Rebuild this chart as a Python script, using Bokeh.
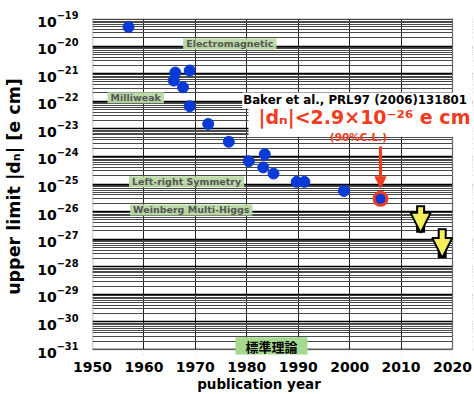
from bokeh.plotting import figure
from bokeh.models import Label, Arrow, NormalHead, FixedTicker, BoxAnnotation
from bokeh.embed import file_html
from bokeh.resources import INLINE

# ---- data ----
years = [1957, 1966.1, 1968.9, 1965.8, 1967.6, 1968.9, 1972.5, 1976.5,
         1980.4, 1983.5, 1983.2, 1985.2, 1989.7, 1991.2, 1998.9]
limits = [4.9e-20, 1.1e-21, 1.3e-21, 5.6e-22, 3.2e-22, 6.6e-23, 1.5e-23, 3.4e-24,
          6.7e-25, 1.2e-24, 4.0e-25, 2.4e-25, 1.2e-25, 1.2e-25, 5.6e-26]
baker_year = 2006
baker_limit = 2.9e-26

future_years = [2013.8, 2018.0]
future_from = [1.7e-26, 2.5e-27]
future_to = [1.7e-27, 2.1e-28]

theory_names = ["Electromagnetic", "Milliweak", "Left-right Symmetry", "Weinberg Multi-Higgs"]
theory_x = [1976.7, 1958.4, 1968.3, 1969.2]
theory_y = [1.2e-20, 1.35e-22, 1.2e-25, 1.15e-26]
sm_name = "標準理論"
sm_x = 1984.8
sm_y = 1.26e-31

x_ticks = [1950, 1960, 1970, 1980, 1990, 2000, 2010, 2020]
y_exponents = list(range(-31, -18))
x_min, x_max = 1950, 2020
y_min, y_max = 1e-31, 1e-19

ref_text = "Baker et al., PRL97 (2006)131801"
result_text = "|dₙ|<2.9×10⁻²⁶ e cm"
cl_text = "(90%C.L.)"

BLUE = "#0a3ad6"
RED = "#f03c20"
YELLOW = "#f6ef5c"
FONT = "DejaVu Sans"

# the drawing frame is a little larger than the data box so that the
# annotations may overhang the box on the right and at the bottom
p = figure(width=474, height=394, x_range=(x_min, x_max + 3.89),
           y_range=(y_min / 10 ** 0.18, y_max),
           y_axis_type="log", output_backend="svg", toolbar_location=None,
           min_border_left=92, min_border_right=2, min_border_top=18, min_border_bottom=36,
           background_fill_color="white", border_fill_color="white")
p.outline_line_color = None

p.xaxis.ticker = FixedTicker(ticks=x_ticks)
p.yaxis.ticker = FixedTicker(
    ticks=[10.0 ** e for e in y_exponents],
    minor_ticks=[m * 10.0 ** e for e in y_exponents[:-1] for m in range(2, 10)])

for ax in (p.xaxis[0], p.yaxis[0]):
    ax.axis_line_color = None
    ax.major_tick_line_color = None
    ax.minor_tick_line_color = None
    ax.major_label_text_font = FONT
    ax.major_label_text_font_style = "bold"
    ax.major_label_text_color = "black"
    ax.axis_label_text_font = FONT
    ax.axis_label_text_font_style = "bold"
    ax.axis_label_text_color = "black"

p.xaxis.major_label_text_font_size = "14px"
p.yaxis.major_label_text_font_size = "14px"
p.xaxis.major_label_standoff = 1
p.yaxis.major_label_standoff = 8
p.xaxis.axis_label = "publication year" + "\u00a0" * 10
p.xaxis.axis_label_text_font_size = "13.5px"
p.xaxis.axis_label_standoff = 1
p.yaxis.axis_label = "upper limit |dₙ| [e cm]"
p.yaxis.axis_label_text_font_size = "17.5px"
p.yaxis.axis_label_standoff = 10

p.xgrid.grid_line_color = "#222222"
p.xgrid.grid_line_width = 1
p.ygrid.grid_line_color = "black"
p.ygrid.grid_line_width = 1.5
p.ygrid.minor_grid_line_color = "#4a4a4a"
p.ygrid.minor_grid_line_width = 1

# measurements
p.scatter(years, limits, size=11, fill_color=BLUE, line_color=BLUE)
p.scatter([baker_year], [baker_limit], size=13, fill_color=BLUE, line_color=RED, line_width=3)

# white masks outside the data box, then the data box outline
p.add_layout(BoxAnnotation(left=x_max, fill_color="white", fill_alpha=1, line_color=None))
p.add_layout(BoxAnnotation(top=y_min, fill_color="white", fill_alpha=1, line_color=None))
p.add_layout(BoxAnnotation(left=x_min, right=x_max, bottom=y_min, top=y_max,
                           fill_alpha=0, line_color="black", line_width=1.5))

# red arrow pointing to the newest result
p.add_layout(Arrow(end=NormalHead(size=11, fill_color=RED, line_color=RED),
                   x_start=baker_year, y_start=baker_limit * 10 ** 1.9,
                   x_end=baker_year, y_end=baker_limit * 10 ** 0.4,
                   line_color=RED, line_width=3))

# yellow block arrows (future sensitivity)
p.segment(future_years, future_from, future_years, future_to, line_color="black", line_width=9)
for fx, f0, f1 in zip(future_years, future_from, future_to):
    p.add_layout(Arrow(end=NormalHead(size=20, fill_color=YELLOW, line_color="black", line_width=2),
                       x_start=fx, y_start=f0, x_end=fx, y_end=f1, line_alpha=0))
yel = p.segment(future_years, [v / 10 ** 0.07 for v in future_from], future_years,
                [v * 10 ** 0.6 for v in future_to], line_color=YELLOW, line_width=5)
yel.level = "overlay"

# theory labels
for name, tx, ty in zip(theory_names, theory_x, theory_y):
    p.add_layout(Label(x=tx, y=ty, text=name, text_align="center", text_baseline="middle",
                       text_font=FONT, text_font_style="bold", text_font_size="9.5px",
                       text_color="#555555", background_fill_color="#b8d9a4",
                       background_fill_alpha=0.95, padding=dict(left=3, right=3, top=0, bottom=0)))

p.add_layout(Label(x=sm_x, y=sm_y, text=sm_name, text_align="center", text_baseline="middle",
                   text_font="Noto Sans CJK JP", text_font_style="bold", text_font_size="13px",
                   text_color="black", background_fill_color="#a6da8e",
                   padding=dict(left=10, right=10, top=0, bottom=0)))

# reference and result annotation
p.add_layout(Label(x=1979.1, y=1.07e-22, text=ref_text, text_align="left", text_baseline="middle",
                   text_font=FONT, text_font_style="bold", text_font_size="11.8px",
                   text_color="black", background_fill_color="white",
                   padding=dict(left=1, right=2, top=1, bottom=1)))
box_pad = dict(left=10, right=4, top=0, bottom=9)
p.add_layout(Label(x=2002.3, y=1.9e-23, text=result_text, text_align="center", text_baseline="middle",
                   text_font=FONT, text_font_style="bold", text_font_size="19px",
                   text_alpha=0, background_fill_color="#888888", background_fill_alpha=0.35,
                   x_offset=2, y_offset=-2, padding=box_pad))
p.add_layout(Label(x=2002.3, y=1.9e-23, text=result_text, text_align="center", text_baseline="middle",
                   text_font=FONT, text_font_style="bold", text_font_size="19px",
                   text_color=RED, background_fill_color="white", padding=box_pad))
p.add_layout(Label(x=2001.7, y=5.1e-24, text=cl_text, text_align="center", text_baseline="middle",
                   text_font=FONT, text_font_style="bold", text_font_size="10.5px",
                   text_color=RED))

open("out.html", "w").write(file_html(p, INLINE))
